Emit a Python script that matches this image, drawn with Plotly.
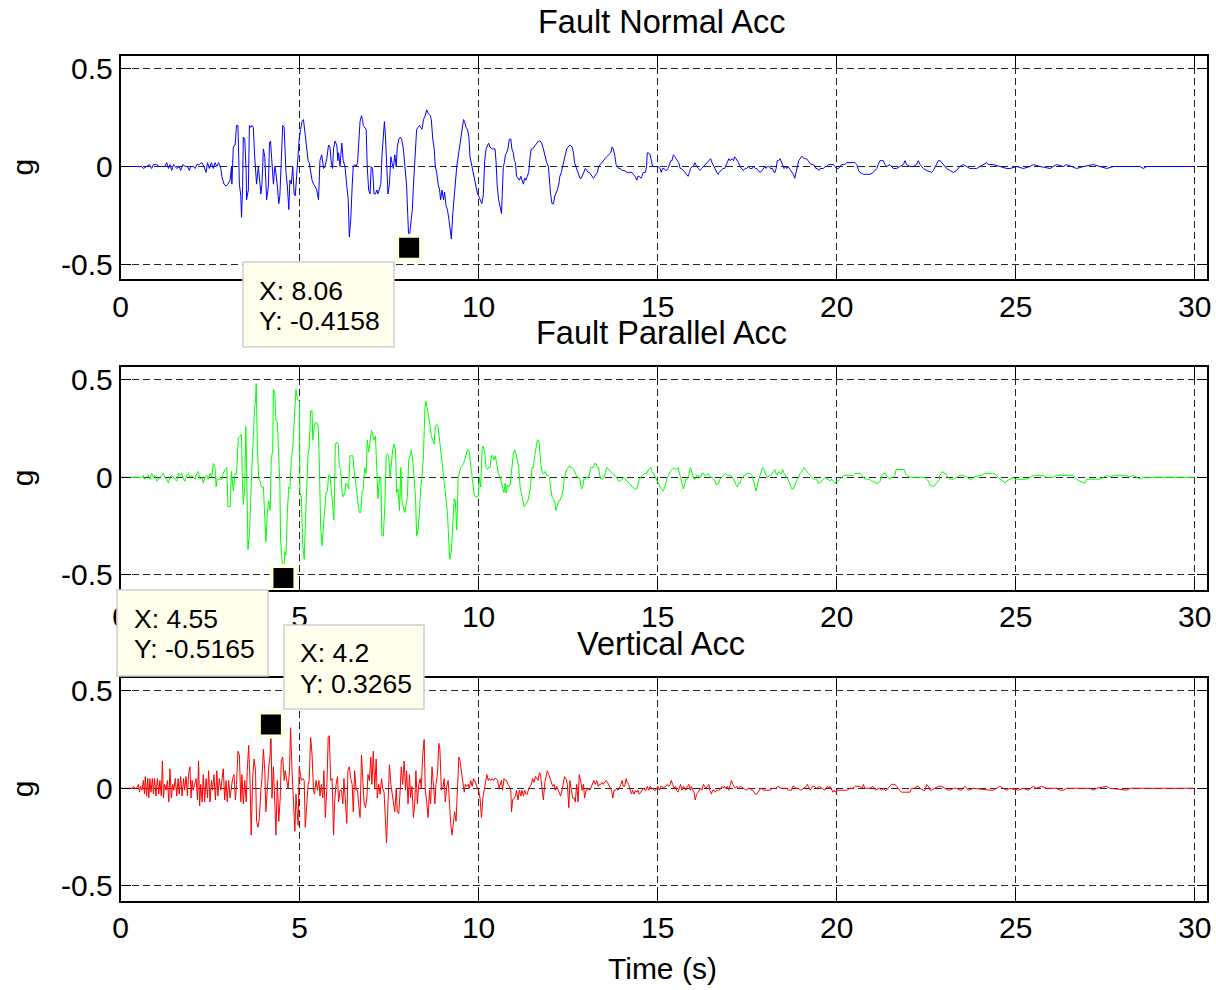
import plotly.graph_objects as go

# ---------------------------------------------------------------------------
# Ground-motion records (time in s, acceleration in g)
# ---------------------------------------------------------------------------
NORMAL_T = [
    0, 0.59, 0.64, 0.73, 0.81, 0.87, 0.92, 1.01, 1.08, 1.15,
    1.24, 1.29, 1.34, 1.38, 1.43, 1.48, 1.57, 1.64, 1.68, 1.74,
    1.81, 1.87, 1.92, 1.96, 2.03, 2.09, 2.13, 2.20, 2.27, 2.33,
    2.39, 2.43, 2.48, 2.54, 2.59, 2.64, 2.69, 2.74, 2.80,
    2.83, 2.89, 2.95, 3.00, 3.06, 3.10, 3.11, 3.15, 3.20, 3.24,
    3.28, 3.32, 3.36, 3.38, 3.41, 3.43, 3.47, 3.51, 3.52, 3.57,
    3.60, 3.64, 3.67, 3.71, 3.74, 3.77, 3.80, 3.85, 3.88, 3.92,
    3.95, 3.99, 4.03, 4.05, 4.08, 4.13, 4.16, 4.19, 4.23, 4.27,
    4.31, 4.34, 4.38, 4.42, 4.45, 4.50, 4.53, 4.57, 4.59, 4.62,
    4.66, 4.70, 4.73, 4.77, 4.81, 4.85, 4.88, 4.94, 4.99, 5.03,
    5.07, 5.11, 5.14, 5.18, 5.20, 5.24, 5.27, 5.31, 5.35, 5.39,
    5.43, 5.48, 5.53, 5.57, 5.62, 5.67, 5.71, 5.76, 5.81, 5.85,
    5.88, 5.92, 5.95, 5.99, 6.04, 6.07, 6.09, 6.13, 6.18, 6.22,
    6.27, 6.32, 6.36, 6.39, 6.43, 6.47, 6.50, 6.54, 6.58, 6.62,
    6.65, 6.69, 6.73, 6.76, 6.78, 6.82, 6.86, 6.89, 6.93, 6.97,
    7.00, 7.04, 7.08, 7.12, 7.16, 7.19, 7.23, 7.27, 7.30, 7.34,
    7.37, 7.40, 7.43, 7.47, 7.51, 7.55, 7.58, 7.62, 7.66, 7.70,
    7.73, 7.77, 7.81, 7.85, 7.90, 7.95, 7.99, 8.02, 8.05, 8.06,
    8.09, 8.12, 8.15, 8.18, 8.21, 8.24, 8.27, 8.31, 8.35, 8.38,
    8.42, 8.46, 8.51, 8.55, 8.60, 8.65, 8.68, 8.72, 8.76, 8.79,
    8.83, 8.87, 8.91, 8.94, 8.98, 9.02, 9.05, 9.09, 9.13, 9.17,
    9.20, 9.24, 9.28, 9.32, 9.35, 9.39, 9.43, 9.46, 9.50, 9.54,
    9.58, 9.61, 9.65, 9.69, 9.73, 9.76, 9.81, 9.86, 9.89, 9.93,
    9.97, 10.00,
    10.04, 10.09, 10.13, 10.17, 10.21, 10.24, 10.28, 10.32, 10.37, 10.41,
    10.46, 10.49, 10.52, 10.56, 10.60, 10.64, 10.66, 10.69, 10.72, 10.75,
    10.78, 10.82, 10.86, 10.90, 10.93, 10.97, 11.00, 11.03, 11.06, 11.10,
    11.14, 11.18, 11.21, 11.25, 11.29, 11.32, 11.36, 11.40, 11.44, 11.47,
    11.51, 11.55, 11.59, 11.62, 11.67, 11.72, 11.76, 11.81, 11.86, 11.90,
    11.95, 11.98, 12.01, 12.05, 12.09, 12.13, 12.16, 12.20, 12.24, 12.27,
    12.31, 12.35, 12.39, 12.42, 12.46, 12.50, 12.55, 12.61, 12.65, 12.68,
    12.72, 12.76, 12.80, 12.83, 12.87, 12.91, 12.94, 12.98, 13.02, 13.06,
    13.09, 13.13, 13.17, 13.21, 13.24, 13.28, 13.32, 13.35, 13.39, 13.43,
    13.48, 13.53, 13.58, 13.63, 13.69, 13.73, 13.76, 13.80, 13.84, 13.88,
    13.91, 13.95, 14.01, 14.06, 14.12, 14.15, 14.19, 14.23, 14.28, 14.32,
    14.37, 14.42, 14.45, 14.49, 14.53, 14.56, 14.60, 14.66, 14.69, 14.71,
    14.75, 14.79, 14.83, 14.86, 14.90, 14.96, 15.01, 15.07, 15.10, 15.14,
    15.18, 15.22, 15.25, 15.29, 15.33, 15.37, 15.40, 15.44, 15.48, 15.51,
    15.55, 15.59, 15.63, 15.66, 15.72, 15.77, 15.81, 15.85, 15.89, 15.92,
    15.96, 16.00, 16.04, 16.09, 16.14, 16.18, 16.23, 16.28, 16.33, 16.39,
    16.44, 16.48, 16.52, 16.56, 16.60, 16.65, 16.69, 16.72, 16.76, 16.82,
    16.87, 16.91, 16.95, 16.99, 17.02, 17.08, 17.12, 17.15, 17.19, 17.23,
    17.26, 17.30, 17.36, 17.39, 17.45, 17.49, 17.53, 17.58, 17.64, 17.67,
    17.73, 17.77, 17.80, 17.86, 17.92, 17.95, 17.99, 18.03, 18.06, 18.10,
    18.16, 18.21, 18.25, 18.28, 18.31, 18.34, 18.38, 18.42, 18.46, 18.49,
    18.53, 18.57, 18.61, 18.64, 18.68, 18.72, 18.75, 18.79, 18.83, 18.87,
    18.90, 18.94, 18.98, 19.01, 19.05, 19.09, 19.13, 19.16, 19.20, 19.24,
    19.28, 19.31, 19.35, 19.39, 19.42, 19.46, 19.50, 19.54, 19.58, 19.63,
    19.68, 19.72, 19.77, 19.82, 19.86, 19.91, 19.95, 20.00, 20.05, 20.09,
    20.14, 20.19, 20.23, 20.28, 20.33, 20.37, 20.42, 20.47, 20.51, 20.56,
    20.61, 20.65, 20.75, 20.84,
    20.93, 21.02, 21.12, 21.16, 21.21, 21.26, 21.30, 21.35, 21.40, 21.49,
    21.58, 21.67, 21.77, 21.86, 21.91, 21.95, 22.05, 22.14, 22.23, 22.28,
    22.33, 22.42, 22.51, 22.61, 22.65, 22.70, 22.79, 22.84, 22.89, 22.93,
    22.98, 23.07, 23.16, 23.26, 23.35, 23.44, 23.54, 23.63, 23.72, 23.82,
    23.91, 24.00, 24.09, 24.19, 24.23, 24.37, 24.56, 24.75, 24.84, 25.03,
    25.21, 25.40, 25.49, 25.68, 25.96, 26.14, 26.33, 26.42, 26.70, 26.89,
    27.17, 27.35, 27.54, 27.73, 28.10, 28.47, 28.56, 28.66, 30.00,
]
NORMAL_G = [
    0, 0, -0.01, 0, 0.01, -0.01, 0.01, 0.01, 0, 0,
    0, 0.02, -0.01, 0.01, -0.02, 0.01, -0.01, 0, -0.02, 0.01,
    0, 0, -0.02, 0, 0, -0.01, 0.01, 0.01, 0.02, 0,
    -0.03, 0.02, -0.01, 0.02, -0.01, 0.02, 0, 0.02, -0.01,
    -0.05, -0.09, -0.10, -0.09, -0.07, 0, -0.09, 0.10, 0.11, 0.21,
    0.21, -0.09, -0.15, -0.26, -0.10, 0.15, 0.14, -0.03, -0.17, -0.12,
    0.21, 0.20, 0.21, 0.20, 0.07, -0.03, -0.09, 0, -0.07, -0.14,
    -0.09, 0.09, 0.05, -0.10, -0.17, -0.10, 0.12, 0.13, 0, -0.09,
    0, -0.03, -0.10, -0.19, -0.15, 0.05, 0.21, 0.20, 0.10, -0.03,
    -0.10, -0.22, -0.07, -0.09, 0, -0.14, -0.15, 0.02, 0.14, 0.19,
    0.23, 0.24, 0.19, 0.14, 0.10, 0.03, 0.02, -0.03, -0.07, -0.09,
    -0.10, -0.12, -0.17, 0.03, 0.06, -0.01, 0, 0.04, 0.11, 0.10,
    0.03, -0.01, 0.09, 0.13, 0.11, 0.03, 0.07, 0, 0.12, 0.03,
    0, -0.10, -0.17, -0.36, -0.27, -0.10, 0, 0.01, 0, 0.02,
    0.14, 0.23, 0.26, 0.24, 0.21, 0.20, 0.19, 0, -0.12, -0.14,
    0, -0.01, -0.14, -0.14, -0.12, -0.14, -0.12, -0.09, 0.05, 0.17,
    0.23, 0.15, 0.05, -0.14, -0.09, 0.05, 0.02, -0.01, 0.06, 0,
    0.10, 0.14, 0.15, 0.14, 0.09, 0, -0.10, -0.24, -0.34, -0.4158,
    -0.32, -0.27, -0.22, -0.10, 0, 0.09, 0.19, 0.20, 0.21, 0.20,
    0.19, 0.24, 0.26, 0.29, 0.27, 0.26, 0.24, 0.14, 0.09, 0,
    -0.03, -0.09, -0.12, -0.17, -0.12, -0.17, -0.13, -0.20, -0.22, -0.27,
    -0.32, -0.37, -0.24, -0.15, -0.07, 0, 0.05, 0.09, 0.14, 0.20,
    0.24, 0.23, 0.20, 0.19, 0.15, 0.05, 0, -0.03, -0.07, -0.10,
    -0.14, -0.15,
    -0.17, -0.19, -0.15, 0.03, 0.09, 0.10, 0.12, 0.10, 0.09, 0.09,
    0.09, 0.02, -0.10, -0.17, -0.20, -0.24, -0.15, 0, 0.02, 0.06,
    0.07, 0.09, 0.14, 0.14, 0.09, 0.07, 0.03, 0.02, -0.05, -0.06,
    -0.07, -0.05, -0.07, -0.09, -0.06, -0.07, -0.05, -0.03, 0.05, 0.09,
    0.09, 0.10, 0.11, 0.12, 0.13, 0.13, 0.12, 0.09, 0.05, 0.02,
    0, -0.10, -0.14, -0.19, -0.19, -0.15, -0.14, -0.12, -0.09, -0.05,
    -0.03, 0, 0.03, 0.06, 0.09, 0.10, 0.11, 0.10, 0.07, 0.02,
    0, -0.02, -0.05, -0.06, -0.06, -0.04, -0.03, -0.01, -0.02, -0.03,
    -0.03, -0.04, -0.05, -0.06, -0.05, -0.04, -0.03, 0, 0.01, 0.02,
    0.03, 0.04, 0.05, 0.06, 0.07, 0.10, 0.09, 0.06, 0.01, 0,
    -0.01, -0.01, -0.02, -0.02, -0.03, -0.03, -0.03, -0.03, -0.03, -0.04,
    -0.05, -0.07, -0.05, -0.05, -0.06, -0.05, -0.03, -0.03, 0, 0.07,
    0.07, 0.06, 0.03, 0, 0, 0, 0, -0.01, -0.03, -0.01,
    -0.01, -0.02, -0.02, -0.01, 0.01, 0.03, 0.03, 0.06, 0.05, 0.04,
    0.03, 0.02, -0.01, -0.01, -0.02, -0.03, -0.04, -0.05, -0.03, -0.01,
    0, 0, 0.02, 0, -0.01, -0.02, -0.01, 0, 0.01, 0.02,
    0.03, 0.04, 0.02, 0, -0.01, -0.03, -0.04, -0.03, -0.02, -0.01,
    -0.01, 0.01, 0.03, 0.04, 0.03, 0.04, 0.03, 0.05, 0.04, 0.03,
    0.02, 0, -0.01, -0.02, -0.01, -0.01, 0, -0.01, -0.01, 0,
    -0.01, -0.01, -0.02, -0.03, -0.02, -0.01, 0, -0.01, 0, 0,
    -0.01, -0.01, -0.03, -0.03, -0.01, 0.03, 0.03, 0.04, 0.02, 0,
    -0.01, 0, -0.01, 0, -0.01, -0.02, -0.03, -0.04, -0.06, -0.02,
    0, 0.03, 0.04, 0.05, 0.05, 0.04, 0.04, 0.04, 0.03, 0.02,
    0.01, 0.01, 0.01, 0, -0.01, -0.01, -0.02, -0.01, -0.01, -0.01,
    0, 0, 0.01, 0.01, 0.01, 0.01, 0, -0.01, -0.01, 0,
    0.01, 0.01, 0.01, 0.02, 0.02, 0.02, 0.02, 0.02, 0.02, 0.01,
    -0.02, -0.03, -0.04, -0.04,
    -0.04, -0.03, -0.01, 0.01, 0.03, 0.03, 0.03, 0.01, 0, 0.01,
    -0.01, -0.01, 0, 0.01, 0.03, 0.01, 0, 0, 0.01, 0.03,
    0.01, -0.01, -0.02, -0.03, -0.03, -0.02, 0.01, 0.03, 0.03, 0.02,
    0.01, -0.01, -0.02, -0.03, -0.02, 0, 0.01, 0, -0.01, -0.01,
    -0.01, 0, 0.01, 0.02, 0.01, 0.01, 0, -0.01, -0.01, 0,
    -0.01, 0, 0.01, 0, -0.01, 0.01, 0, 0.01, -0.01, 0,
    0.01, 0, -0.01, 0, 0, 0, -0.01, 0, 0,
]

PARALLEL_T = [
    0, 0.59, 0.64, 0.67, 0.73, 0.78, 0.82, 0.87, 0.92, 0.96,
    1.01, 1.06, 1.10, 1.15, 1.20, 1.24, 1.29, 1.34, 1.38, 1.43,
    1.48, 1.52, 1.57, 1.62, 1.66, 1.71, 1.76, 1.80, 1.85, 1.89,
    1.94, 1.99, 2.03, 2.08, 2.13, 2.17, 2.22, 2.27, 2.31, 2.36,
    2.41, 2.45, 2.50, 2.55, 2.59, 2.64, 2.67, 2.70, 2.74, 2.78,
    2.83, 2.87, 2.92, 2.97, 3.00, 3.06, 3.10, 3.15, 3.20, 3.24,
    3.29, 3.34, 3.38, 3.40, 3.43, 3.47, 3.50, 3.52, 3.56, 3.60,
    3.64, 3.67, 3.71, 3.74, 3.77, 3.79, 3.82, 3.86, 3.90, 3.93,
    3.99, 4.03, 4.06, 4.10, 4.14, 4.18, 4.21, 4.25, 4.27, 4.31,
    4.34, 4.38, 4.42, 4.45, 4.47, 4.51, 4.55, 4.59, 4.62, 4.66,
    4.70, 4.73, 4.77, 4.81, 4.85, 4.88, 4.90, 4.94, 5.00, 5.01,
    5.05, 5.09, 5.13, 5.16, 5.20, 5.24, 5.27, 5.31, 5.35, 5.37,
    5.41, 5.44, 5.48, 5.52, 5.55, 5.59, 5.63, 5.67, 5.70, 5.74,
    5.78, 5.81, 5.85, 5.89, 5.93, 5.96, 6.00, 6.04, 6.08, 6.11,
    6.15, 6.19, 6.22, 6.26, 6.30, 6.34, 6.37, 6.41, 6.45, 6.49,
    6.52, 6.56, 6.60, 6.63, 6.67, 6.71, 6.75, 6.78, 6.82, 6.86,
    6.89, 6.93, 6.97, 7.01, 7.04, 7.08, 7.12, 7.16, 7.19, 7.23,
    7.27, 7.30, 7.34, 7.38, 7.42, 7.45, 7.49, 7.53, 7.57, 7.60,
    7.64, 7.68, 7.71, 7.75, 7.79, 7.83, 7.86, 7.90, 7.94, 7.97,
    8.01, 8.05, 8.09, 8.12, 8.16, 8.20, 8.24, 8.27, 8.31, 8.35,
    8.38, 8.42, 8.46, 8.50, 8.53, 8.57, 8.61, 8.65, 8.68, 8.72,
    8.76, 8.79, 8.83, 8.87, 8.91, 8.94, 8.98, 9.02, 9.05, 9.09,
    9.13, 9.17, 9.20, 9.24, 9.28, 9.32, 9.35, 9.39, 9.43, 9.46,
    9.50, 9.54, 9.58, 9.61, 9.65, 9.69, 9.73, 9.76, 9.80, 9.84,
    9.87, 9.91, 9.95, 9.99, 10.02, 10.06, 10.10, 10.13, 10.17, 10.21,
    10.25, 10.28, 10.32, 10.36, 10.40, 10.43, 10.47, 10.51, 10.55, 10.60,
    10.64, 10.67, 10.71, 10.74, 10.77, 10.80, 10.84, 10.88, 10.92, 10.94,
    10.97, 11.01, 11.05, 11.08, 11.12, 11.16, 11.19, 11.23, 11.27, 11.31,
    11.34, 11.38, 11.42, 11.45, 11.49, 11.53, 11.57, 11.60, 11.64, 11.68,
    11.72, 11.75, 11.79, 11.83, 11.86, 11.90, 11.94, 11.98, 12.01, 12.05,
    12.09, 12.13, 12.16, 12.20, 12.24, 12.27, 12.31, 12.35, 12.39, 12.42,
    12.46, 12.50, 12.54, 12.57, 12.61, 12.65, 12.68, 12.72, 12.76, 12.80,
    12.83, 12.87, 12.91, 12.94, 12.98, 13.02, 13.06, 13.09, 13.13, 13.17,
    13.21, 13.24, 13.28, 13.32, 13.35, 13.39, 13.43, 13.47, 13.50, 13.54,
    13.58, 13.63, 13.69, 13.75, 13.80, 13.86, 13.91, 13.95, 14.01, 14.06,
    14.14, 14.21, 14.29, 14.36, 14.42, 14.45, 14.49, 14.53, 14.58, 14.64,
    14.69, 14.75, 14.81, 14.84, 14.88, 14.94, 14.99, 15.05, 15.10, 15.16,
    15.20, 15.23, 15.27, 15.31, 15.35, 15.40, 15.46, 15.51, 15.57, 15.61,
    15.64, 15.68, 15.72, 15.76, 15.79, 15.83, 15.87, 15.91, 15.94, 15.98,
    16.02, 16.05, 16.09, 16.13, 16.17, 16.20, 16.24, 16.28, 16.31, 16.37,
    16.41, 16.45, 16.48, 16.52, 16.56, 16.60, 16.65, 16.70, 16.74, 16.79,
    16.84, 16.89, 16.95, 17.00, 17.04, 17.08, 17.12, 17.15, 17.19, 17.23,
    17.26, 17.30, 17.34, 17.38, 17.41, 17.45, 17.49, 17.53, 17.58, 17.63,
    17.67, 17.71, 17.75, 17.79, 17.82, 17.86, 17.90, 17.93, 17.97, 18.01,
    18.05, 18.08, 18.12, 18.16, 18.20, 18.23, 18.27, 18.31, 18.34, 18.38,
    18.42, 18.46, 18.49, 18.53, 18.57, 18.61, 18.64, 18.68, 18.72, 18.75,
    18.79, 18.83, 18.87, 18.90, 18.94, 18.98, 19.03, 19.09, 19.13, 19.16,
    19.21, 19.26, 19.30, 19.35, 19.40, 19.44, 19.49, 19.54, 19.58, 19.63,
    19.68, 19.72, 19.77, 19.82, 19.86, 19.91, 19.95, 20.00, 20.05, 20.09,
    20.14, 20.19, 20.23, 20.28, 20.37, 20.47, 20.51, 20.56, 20.61, 20.65,
    20.70, 20.75, 20.79, 20.84, 20.89, 20.93, 20.98, 21.03, 21.07, 21.12,
    21.16, 21.21,
    21.26, 21.30, 21.35, 21.39, 21.44, 21.49, 21.53, 21.58, 21.63, 21.66,
    21.77, 21.89, 21.92, 21.95, 22.05, 22.37, 22.42, 22.47, 22.51, 22.56,
    22.61, 22.65, 22.70, 22.74, 22.79, 22.84, 22.87, 22.88, 22.93, 22.96,
    23.00, 23.03, 23.07, 23.12, 23.16, 23.21, 23.26, 23.35, 23.44, 23.54,
    23.63, 23.72, 23.77, 23.82, 23.86, 23.89, 23.93, 23.96, 24.05, 24.14,
    24.28, 24.37, 24.47, 24.56, 24.65, 24.70, 24.75, 24.84, 24.93, 24.98,
    25.31, 25.40, 25.49, 25.58, 25.68, 25.77, 25.86, 26.05, 26.14, 26.24,
    26.61, 26.65, 26.70, 26.79, 26.93, 26.98, 27.07, 27.17, 27.35, 27.45,
    27.54, 27.63, 27.73, 27.82, 27.91, 28.01, 28.10, 28.19, 28.28, 28.38,
    28.47, 28.56, 30.00,
]
PARALLEL_G = [
    0, 0, 0.01, -0.01, 0, 0.01, -0.01, 0.02, 0, 0.01,
    -0.02, -0.01, 0, 0.01, 0.02, 0, -0.01, -0.03, 0, 0.01,
    0, -0.01, -0.02, 0.02, 0.01, 0.02, -0.01, -0.02, 0.01, 0.02,
    0, 0.01, 0, -0.01, 0.02, 0.03, -0.01, 0, -0.03, 0,
    0.01, -0.01, 0.02, 0, 0.07, 0.05, -0.05, -0.01, -0.01, -0.01,
    -0.01, 0.02, 0.04, 0.05, -0.15, -0.15, 0.03, -0.07, 0.02, 0.02,
    0.20, 0.21, 0.22, 0, -0.14, -0.05, 0.26, 0.07, -0.37, -0.29,
    -0.05, 0.05, 0.21, 0.35, 0.39, 0.48, 0.17, -0.01, -0.02, -0.05,
    -0.05, -0.20, -0.33, -0.18, -0.12, -0.17, 0.09, 0.14, 0.45, 0.43,
    0.29, 0.28, 0.14, -0.03, -0.32, -0.43, -0.5165, -0.38, -0.40, -0.18,
    -0.05, -0.06, 0.09, 0.15, 0.29, 0.37, 0.45, 0.40, 0.39, -0.08,
    -0.10, -0.35, -0.42, -0.25, -0.06, 0.12, 0.15, 0.34, 0.34, 0.19,
    0.26, 0.28, 0.28, 0.26, 0.09, -0.25, -0.35, -0.27, -0.17, -0.08,
    -0.07, 0.01, 0.01, -0.07, -0.18, -0.22, 0.17, 0.18, 0.17, 0.05,
    0.04, -0.08, -0.10, -0.08, -0.03, -0.04, -0.06, 0.11, 0.11, 0.11,
    0.04, -0.01, -0.08, -0.13, -0.18, -0.18, -0.07, -0.06, 0.05, 0.02,
    0.19, 0.13, 0.18, 0.24, 0.22, 0.19, 0.21, -0.01, -0.11, -0.01,
    0, -0.30, -0.30, -0.15, 0.11, 0.12, 0.11, 0, 0.11, 0.14,
    0.17, 0.14, -0.08, -0.06, -0.17, 0.05, -0.13, -0.15, -0.18, -0.15,
    -0.10, 0.09, 0.11, 0.14, 0.09, 0, -0.11, -0.30, -0.27, -0.18,
    -0.06, 0, 0.11, 0.35, 0.39, 0.35, 0.31, 0.26, 0.21, 0.19,
    0.17, 0.26, 0.27, 0.26, 0.19, 0.12, 0.07, 0, -0.06, -0.12,
    -0.18, -0.34, -0.42, -0.38, -0.22, -0.11, -0.12, -0.27, 0, 0.02,
    0.05, 0.06, 0.07, 0.09, 0.11, 0.14, 0.14, 0.09, 0.04, -0.01,
    -0.08, -0.10, -0.10, -0.10, 0, -0.05, 0.15, 0.16, 0.13, 0.05,
    0.04, 0.05, 0.05, 0.11, 0.11, 0.09, 0.11, 0.07, 0.02, 0,
    -0.03, -0.05, -0.08, -0.03, -0.08, -0.04, -0.05, -0.04, 0.04, 0.09,
    0.12, 0.14, 0.12, 0.09, 0.05, -0.05, -0.08, -0.13, -0.15, -0.14,
    -0.13, -0.12, -0.08, -0.05, 0.05, 0.05, 0.11, 0.14, 0.19, 0.19,
    0.12, 0.05, 0.02, 0.02, 0.03, 0.01, 0.01, 0, -0.05, -0.10,
    -0.11, -0.13, -0.17, -0.15, -0.12, -0.12, -0.10, -0.08, -0.01, 0.01,
    0.04, 0.05, 0.06, 0.05, 0.05, 0.04, 0.03, 0.02, 0, 0,
    -0.01, -0.06, -0.05, -0.01, -0.01, 0, 0, 0.01, 0.05, 0.05,
    0.05, 0.07, 0.07, 0.05, 0.05, 0, -0.01, -0.01, 0, 0.02,
    0.05, 0.04, 0.03, 0.02, 0.01, 0, -0.02, -0.02, -0.01, 0,
    -0.02, -0.03, -0.05, -0.06, -0.06, -0.03, -0.01, 0, 0.01, 0.02,
    0.02, 0.04, 0.05, 0.03, 0.02, 0, -0.02, -0.04, -0.06, -0.07,
    -0.05, -0.03, 0, 0.01, 0.03, 0.04, 0.05, 0.04, 0.05, 0.02,
    0, -0.03, -0.06, -0.03, -0.01, -0.01, 0.01, 0.05, 0.04, 0.01,
    -0.01, -0.01, 0.01, 0.01, 0, 0, 0.02, 0.02, 0.01, 0.01,
    0.02, 0.01, 0, 0, -0.01, -0.02, -0.04, -0.03, -0.01, 0,
    0.01, 0.02, 0.01, 0.01, 0.01, 0, -0.01, -0.02, -0.04, -0.05,
    -0.03, -0.03, -0.01, 0, 0.01, 0.01, 0.02, 0.02, 0.02, 0.01,
    -0.01, -0.04, -0.07, -0.03, -0.01, 0.01, 0.03, 0.05, 0.04, 0.02,
    0, 0, 0.01, 0.01, 0.02, 0.03, 0.04, 0.02, 0.01, 0.03,
    0.02, 0.02, 0.04, 0.02, 0.01, 0, -0.01, -0.03, -0.05, -0.06,
    -0.06, -0.04, -0.03, -0.01, 0, 0.02, 0.03, 0.05, 0.04, 0.03,
    0.02, 0.01, 0, -0.01, -0.01, -0.01, -0.03, -0.03, -0.02, -0.01,
    0, -0.01, -0.01, -0.02, -0.01, -0.02, -0.03, -0.02, -0.02, -0.01,
    0, 0.01, 0.01, 0.01, 0.01, 0.01, 0.02, 0.02, 0.02, 0.02,
    0.01, 0, -0.01, -0.01, -0.01, -0.01, -0.02, -0.02, -0.03, -0.03,
    -0.03, -0.02,
    0.01, 0.02, 0.02, 0.01, 0, -0.01, 0, 0, 0.01, 0.04,
    0.04, 0.04, 0.02, 0.01, 0, 0, 0, 0, -0.01, -0.02,
    -0.04, -0.04, -0.05, -0.04, -0.03, -0.02, -0.01, 0.01, 0.02, 0.03,
    0.02, 0.02, 0.01, 0, -0.01, -0.01, -0.01, 0, 0.01, 0.01,
    0, -0.01, -0.01, 0, 0, 0.01, 0, 0.01, 0.01, 0.02,
    0.02, 0.02, 0.01, -0.01, -0.02, -0.03, -0.02, -0.01, 0, -0.01,
    -0.01, 0, 0.01, 0.01, 0.01, 0.01, 0, 0, 0.01, 0.01,
    0.01, 0, -0.01, -0.02, -0.03, -0.01, -0.01, -0.01, -0.01, 0,
    0.01, 0, 0.01, 0.01, 0.01, 0.01, 0.01, 0, 0.01, 0,
    -0.01, 0, 0,
]

VERTICAL_T = [
    0, 0.34, 0.36, 0.40, 0.45, 0.50, 0.53, 0.56, 0.60, 0.64,
    0.67, 0.69, 0.73, 0.76, 0.79, 0.82, 0.85, 0.89, 0.92, 0.95,
    0.99, 1.03, 1.07, 1.10, 1.14, 1.17, 1.20, 1.23, 1.27, 1.31,
    1.35, 1.38, 1.42, 1.46, 1.49, 1.53, 1.57, 1.61, 1.64, 1.68,
    1.72, 1.76, 1.79, 1.83, 1.87, 1.90, 1.94, 1.97, 2.00, 2.03,
    2.07, 2.11, 2.15, 2.18, 2.21, 2.24, 2.28, 2.31, 2.35, 2.39,
    2.43, 2.46, 2.50, 2.54, 2.57, 2.61, 2.65, 2.69, 2.72, 2.76,
    2.80, 2.84, 2.87, 2.91, 2.95, 2.98, 3.02, 3.06, 3.10, 3.13,
    3.17, 3.21, 3.24, 3.28, 3.32, 3.36, 3.39, 3.43, 3.47, 3.51,
    3.54, 3.58, 3.62, 3.65, 3.69, 3.73, 3.77, 3.80, 3.84, 3.88,
    3.92, 3.95, 3.99, 4.03, 4.06, 4.10, 4.14, 4.18, 4.20, 4.23,
    4.27, 4.31, 4.34, 4.38, 4.42, 4.46, 4.49, 4.53, 4.57, 4.60,
    4.64, 4.68, 4.72, 4.75, 4.79, 4.83, 4.87, 4.90, 4.94, 4.96,
    4.99, 5.01, 5.05, 5.09, 5.13, 5.16, 5.20, 5.24, 5.27, 5.31,
    5.35, 5.39, 5.42, 5.46, 5.50, 5.54, 5.57, 5.61, 5.65, 5.68,
    5.72, 5.76, 5.80, 5.83, 5.87, 5.91, 5.95, 5.98, 6.02, 6.06,
    6.09, 6.13, 6.17, 6.21, 6.24, 6.28, 6.32, 6.35, 6.39, 6.43,
    6.47, 6.50, 6.54, 6.58, 6.62, 6.65, 6.69, 6.73, 6.76, 6.80,
    6.84, 6.88, 6.91, 6.95, 6.99, 7.02, 7.06, 7.10, 7.14, 7.17,
    7.21, 7.25, 7.29, 7.32, 7.36, 7.40, 7.43, 7.47, 7.51, 7.55,
    7.58, 7.62, 7.66, 7.70, 7.73, 7.77, 7.81, 7.84, 7.88, 7.92,
    7.96, 7.99, 8.03, 8.07, 8.10, 8.14, 8.18, 8.22, 8.25, 8.29,
    8.33, 8.37, 8.40, 8.44, 8.48, 8.51, 8.55, 8.59, 8.63, 8.66,
    8.70, 8.74, 8.78, 8.81, 8.85, 8.89, 8.92, 8.96, 9.00, 9.04,
    9.07, 9.11, 9.15, 9.19, 9.22, 9.26, 9.30, 9.33, 9.37, 9.41,
    9.45, 9.48, 9.52, 9.56, 9.60, 9.63, 9.67, 9.71, 9.74, 9.78,
    9.82, 9.86, 9.89, 9.93, 9.97, 10.00, 10.04, 10.08, 10.12, 10.15,
    10.19, 10.23, 10.27, 10.30, 10.34, 10.38, 10.42, 10.45, 10.49, 10.53,
    10.57,
    10.64, 10.67, 10.71, 10.75, 10.78, 10.82, 10.86, 10.90, 10.92, 10.95,
    10.99, 11.03, 11.06, 11.10, 11.14, 11.18, 11.21, 11.25, 11.29, 11.32,
    11.36, 11.40, 11.44, 11.47, 11.51, 11.55, 11.59, 11.62, 11.66, 11.70,
    11.73, 11.77, 11.81, 11.85, 11.88, 11.92, 11.96, 12.00, 12.03, 12.07,
    12.11, 12.14, 12.18, 12.22, 12.26, 12.29, 12.33, 12.37, 12.40, 12.44,
    12.48, 12.52, 12.55, 12.59, 12.63, 12.67, 12.70, 12.74, 12.78, 12.81,
    12.85, 12.89, 12.93, 12.96, 13.00, 13.04, 13.08, 13.11, 13.15, 13.19,
    13.22, 13.26, 13.30, 13.34, 13.37, 13.41, 13.45, 13.48, 13.52, 13.56,
    13.60, 13.63, 13.67, 13.71, 13.75, 13.78, 13.82, 13.86, 13.89, 13.93,
    13.97, 14.01, 14.04, 14.08, 14.12, 14.15, 14.19, 14.23, 14.27, 14.30,
    14.34, 14.38, 14.42, 14.45, 14.49, 14.53, 14.56, 14.60, 14.64, 14.68,
    14.71, 14.75, 14.79, 14.83, 14.86, 14.90, 14.94, 14.97, 15.01, 15.05,
    15.09, 15.12, 15.16, 15.20, 15.23, 15.27, 15.31, 15.35, 15.38, 15.42,
    15.46, 15.50, 15.53, 15.57, 15.61, 15.64, 15.68, 15.72, 15.76, 15.79,
    15.83, 15.87, 15.91, 15.94, 15.98, 16.02, 16.05, 16.09, 16.13, 16.17,
    16.20, 16.24, 16.28, 16.31, 16.35, 16.39, 16.43, 16.46, 16.50, 16.54,
    16.58, 16.61, 16.65, 16.69, 16.72, 16.76, 16.80, 16.84, 16.87, 16.91,
    16.95, 16.99, 17.02, 17.06, 17.10, 17.13, 17.17, 17.21, 17.25, 17.32,
    17.39, 17.47, 17.54, 17.58, 17.62, 17.66, 17.69, 17.73, 17.77, 17.80,
    17.84, 17.88, 17.92, 17.95, 17.99, 18.06, 18.10, 18.14, 18.21, 18.29,
    18.36, 18.44, 18.51, 18.59, 18.66, 18.70, 18.74, 18.77, 18.81, 18.85,
    18.92, 19.00, 19.07, 19.15, 19.18, 19.22, 19.26, 19.33, 19.37, 19.44,
    19.52, 19.59, 19.67, 19.74, 19.78, 19.82, 19.85, 19.89, 19.93, 19.96,
    20.00, 20.08, 20.15, 20.23, 20.30, 20.37, 20.45, 20.52, 20.60, 20.63,
    20.71, 20.75, 20.78, 20.86, 20.93, 21.01, 21.08, 21.19,
    21.26, 21.30, 21.35, 21.39, 21.44, 21.53, 21.58, 21.63, 21.67, 21.72,
    21.77, 21.81, 22.05, 22.09, 22.19, 22.23, 22.28, 22.33, 22.42, 22.47,
    22.51, 22.56, 22.61, 22.65, 22.74, 22.84, 22.93, 23.02, 23.12, 23.16,
    23.26, 23.35, 23.44, 23.49, 23.54, 23.58, 23.63, 23.68, 23.82, 24.19,
    24.28, 24.37, 24.47, 24.56, 24.65, 24.75, 24.84, 25.07, 25.21, 25.35,
    25.49, 25.58, 25.72, 25.86, 26.14, 26.24, 26.33, 26.42, 27.07, 27.17,
    27.26, 27.54, 27.63, 28.01, 28.10, 28.19, 30.00,
]
VERTICAL_G = [
    0, 0, 0.01, 0, 0, 0.02, -0.02, 0.01, -0.01, 0.04,
    -0.03, 0.06, -0.04, 0.05, -0.05, 0.05, -0.02, 0.05, -0.03, 0.05,
    -0.04, 0.05, -0.03, 0.04, -0.04, 0.14, -0.05, 0.02, -0.01, 0.04,
    -0.07, 0.10, -0.05, 0.02, -0.01, 0.05, -0.04, 0.05, -0.03, 0.06,
    -0.04, 0.05, -0.01, 0.06, -0.04, 0.07, 0.11, -0.05, 0.04, -0.01,
    0.02, 0.05, -0.06, 0.14, -0.09, 0.02, -0.07, 0.07, -0.07, 0.05,
    -0.05, 0.09, -0.07, 0.04, -0.01, 0.07, -0.06, 0.09, -0.04, 0.05,
    -0.01, 0.04, 0.10, -0.06, 0.04, -0.07, 0.04, -0.05, 0.02, 0.05,
    0.07, -0.06, 0.02, 0.19, 0.17, -0.07, 0.07, -0.08, 0.04, -0.07,
    0.09, 0.22, 0.02, -0.24, 0.05, 0.15, 0.09, -0.17, -0.20, -0.15,
    -0.01, 0.05, 0.20, 0.09, -0.12, 0.02, 0.11, 0.17, 0.3265, -0.05,
    0.11, -0.08, -0.24, 0.04, -0.17, -0.05, 0.14, 0.16, 0.04, 0.09,
    0.05, 0, 0.09, 0.31, 0.09, -0.10, -0.22, -0.03, -0.15, -0.19,
    0.11, 0.09, 0.04, 0.05, 0.04, -0.20, -0.07, 0.02, 0.04, 0.26,
    0.17, -0.01, -0.03, 0.04, -0.01, 0.04, -0.04, 0.02, -0.05, 0.09,
    -0.15, -0.01, 0.26, 0.27, 0.04, 0.05, -0.24, -0.07, 0.02, 0.06,
    -0.07, -0.01, -0.01, -0.08, 0.05, -0.07, -0.18, 0.09, 0.11, 0.05,
    0.02, -0.12, 0.09, -0.01, -0.01, -0.08, -0.15, 0.17, 0.09, -0.07,
    -0.10, -0.05, 0.07, 0.04, 0.16, 0.02, 0.19, 0, 0.15, -0.05,
    0.02, -0.03, 0.05, 0, -0.02, -0.18, -0.28, -0.08, 0.12, 0.02,
    -0.01, -0.07, -0.12, 0, -0.12, -0.13, -0.01, 0.11, 0.02, 0.14,
    -0.01, 0.09, -0.08, 0.07, -0.05, 0.01, -0.15, -0.07, 0.09, -0.08,
    0.02, 0.05, 0, 0.17, 0.25, 0, -0.07, -0.15, -0.01, -0.08,
    0.11, 0.03, -0.08, 0.02, 0.07, 0.23, 0.20, -0.01, 0, 0.05,
    -0.07, 0.01, 0.04, -0.08, -0.18, -0.24, -0.15, -0.12, -0.17, 0.05,
    0.16, 0.14, 0.09, 0.04, -0.02, 0.02, 0.01, 0.02, 0, 0.04,
    0.01, 0.05, 0.04, 0.02, 0, -0.01, -0.05, -0.15, -0.05, -0.01,
    0.02, 0.07, 0.04, 0.05, 0.04, 0.05, 0.04, 0.05, 0.05, 0.04,
    0,
    0.04, -0.01, 0.05, 0.04, 0.04, 0.02, 0.01, -0.01, -0.12, -0.06,
    -0.05, -0.04, -0.01, -0.06, -0.01, -0.04, -0.01, -0.04, -0.01, -0.03,
    -0.03, 0, 0.01, 0.02, 0.05, 0.03, 0.06, 0.05, 0.04, 0.08,
    0.07, 0, -0.06, 0.03, 0.05, 0.09, 0.07, 0.05, 0.04, 0.01,
    0.02, -0.01, 0.01, -0.01, -0.03, -0.04, -0.01, 0.04, 0.06, 0.05,
    0.02, -0.10, 0.04, -0.01, -0.05, -0.05, -0.07, 0.02, -0.07, 0.07,
    0.04, -0.01, 0.02, -0.05, -0.01, -0.01, 0, -0.01, 0.01, 0.02,
    0.04, 0.02, 0.04, 0.01, 0.02, 0.02, 0.03, 0.02, 0.03, 0.04,
    0.03, 0.02, 0, -0.01, -0.05, -0.01, -0.01, 0, -0.01, 0,
    0.02, 0.04, 0.01, 0.01, 0.05, 0.03, 0.02, -0.01, -0.03, -0.01,
    -0.03, -0.01, -0.02, -0.01, -0.03, -0.02, -0.01, 0, -0.01, -0.01,
    0.01, -0.01, 0.01, 0, 0, -0.01, -0.01, 0, 0.01, -0.01,
    0.01, 0.01, 0, 0.01, 0.01, 0.02, 0.01, 0.02, 0.04, 0.02,
    0, 0.01, -0.01, -0.02, 0, 0.02, -0.01, 0.01, 0, -0.01,
    0.01, 0.02, -0.01, 0.01, -0.01, -0.02, -0.06, -0.03, -0.02, -0.01,
    0, -0.01, 0.02, 0.01, 0, 0.01, 0.02, -0.01, -0.03, -0.01,
    -0.01, -0.02, -0.01, -0.01, -0.01, 0, 0.01, 0, 0.01, 0,
    0.01, -0.01, 0.02, 0.04, 0.02, 0.01, 0, 0.01, 0, 0.01,
    0, -0.01, 0, 0, -0.01, -0.01, -0.02, -0.03, -0.03, -0.02,
    -0.01, 0, 0, -0.01, -0.01, -0.01, -0.01, -0.01, 0, 0,
    0.01, 0, 0, 0, -0.01, -0.01, -0.01, 0.01, 0.01, 0,
    0, -0.01, 0, 0.01, 0.02, 0, -0.01, 0.01, 0.01, 0,
    0.01, 0, -0.01, 0.01, 0, 0.01, 0, -0.02, -0.01, -0.02,
    -0.01, -0.01, -0.01, -0.01, -0.01, 0, 0, 0.01, 0.01, 0.01,
    0, 0.02, 0, 0, 0, 0.01, -0.01, 0,
    -0.01, 0, -0.01, -0.01, 0, 0.02, 0.02, 0.02, 0.01, 0,
    -0.01, -0.02, -0.02, 0, 0, 0.01, 0.01, 0, -0.01, -0.01,
    0.02, 0.01, -0.01, -0.01, 0, 0.01, 0.01, 0, -0.01, -0.01,
    0, 0, -0.01, -0.01, 0, 0.01, 0, -0.01, 0, -0.01,
    -0.01, -0.01, 0, 0.01, 0, -0.01, 0, -0.01, 0, -0.01,
    0.01, 0, 0.01, 0, 0, -0.01, -0.01, 0, 0, -0.01,
    0, 0.01, 0, -0.01, -0.01, 0, 0,
]

# Data cursors placed on the records: (time s, acceleration g)
TIP_NORMAL = (8.06, -0.4158)
TIP_PARALLEL = (4.55, -0.5165)
TIP_VERTICAL = (4.2, 0.3265)

PANEL_TITLES = ["Fault Normal Acc", "Fault Parallel Acc", "Vertical Acc"]
LINE_COLORS = ["#0000FF", "#00FF00", "#FF0000"]
TIME_TICKS = [0, 5, 10, 15, 20, 25, 30]
ACC_TICKS = [-0.5, 0, 0.5]
ACC_TICK_TEXT = ["-0.5", "0", "0.5"]
X_LABEL = "Time (s)"
Y_LABEL = "g"

for name, t, g in [("normal", NORMAL_T, NORMAL_G),
                   ("parallel", PARALLEL_T, PARALLEL_G),
                   ("vertical", VERTICAL_T, VERTICAL_G)]:
    assert len(t) == len(g), (name, len(t), len(g))

# ---------------------------------------------------------------------------
# Figure layout (pixel geometry of a 1216 x 990 canvas)
# ---------------------------------------------------------------------------
W, H = 1216, 990
FONT = "Liberation Sans, Arial, Helvetica, sans-serif"


def fx(px):
    return px / W


def fy(py):
    return 1 - py / H


X_DOMAIN = [fx(120.5), fx(1207.3)]
# (top, bottom) of each panel in pixels
PANELS = [(56.0, 279.0), (367.0, 589.5), (678.0, 900.5)]
X_RANGE = [0, 30.35]
Y_RANGE = [-0.575, 0.565]

axis_common = dict(
    showline=True, linecolor="black", linewidth=1.5, mirror="ticks",
    ticks="inside", ticklen=11, tickwidth=1.2, tickcolor="black",
    showgrid=True, gridcolor="rgba(0,0,0,0.85)", gridwidth=1, griddash="7px,4px",
    zeroline=False, tickfont=dict(family=FONT, size=30, color="black"),
    fixedrange=True, automargin=False,
)

fig = go.Figure()
layout = dict(
    width=W, height=H, margin=dict(l=0, r=0, t=0, b=0, autoexpand=False),
    paper_bgcolor="white", plot_bgcolor="white", showlegend=False,
    font=dict(family=FONT, color="black"),
)

records = [(NORMAL_T, NORMAL_G, TIP_NORMAL),
           (PARALLEL_T, PARALLEL_G, TIP_PARALLEL),
           (VERTICAL_T, VERTICAL_G, TIP_VERTICAL)]

for i, ((t, g, tip), color, (top, bot)) in enumerate(zip(records, LINE_COLORS, PANELS)):
    suffix = "" if i == 0 else str(i + 1)
    xa, ya = "x" + suffix, "y" + suffix
    layout["xaxis" + suffix] = dict(
        axis_common, domain=X_DOMAIN, anchor=ya, range=X_RANGE,
        tickvals=TIME_TICKS, ticktext=[str(v) for v in TIME_TICKS],
        ticklabelstandoff=0,
    )
    layout["yaxis" + suffix] = dict(
        axis_common, domain=[fy(bot), fy(top)], anchor=xa, range=Y_RANGE,
        tickvals=ACC_TICKS, ticktext=ACC_TICK_TEXT, ticklabelstandoff=0,
    )
    fig.add_trace(go.Scatter(
        x=t, y=g, mode="lines", line=dict(color=color, width=1),
        xaxis=xa, yaxis=ya, hoverinfo="skip",
    ))
    fig.add_trace(go.Scatter(
        x=[tip[0]], y=[tip[1]], mode="markers", cliponaxis=False,
        marker=dict(symbol="square", size=24, color="black",
                    line=dict(color="#FFFFE1", width=4)),
        xaxis=xa, yaxis=ya, hoverinfo="skip",
    ))

fig.update_layout(**layout)

annotations = []
shapes = []


def text_at(px, py, text, size=30, xanchor="center", angle=0):
    annotations.append(dict(
        x=fx(px), y=fy(py), xref="paper", yref="paper", text=text,
        showarrow=False, xanchor=xanchor, yanchor="middle", textangle=angle,
        font=dict(family=FONT, size=size, color="black"),
    ))


# panel titles and axis labels
for title, (top, bot), ty in zip(PANEL_TITLES, PANELS, [22.5, 333, 644]):
    text_at(661, ty, title, size=32.5)
    text_at(22, (top + bot) / 2, Y_LABEL, angle=-90)
text_at(662, 968, X_LABEL)

# data-cursor boxes: (left, top, right, bottom) and first/second text line centres
TIP_LAYOUT = [
    (TIP_NORMAL, (243, 262, 394, 347), 257, 291, 321),
    (TIP_PARALLEL, (117, 590, 268, 676), 132, 619, 649),
    (TIP_VERTICAL, (284, 625, 424, 709), 298, 653, 684),
]
for (tx, ty), (x0, y0, x1, y1), tl, l1, l2 in TIP_LAYOUT:
    shapes.append(dict(
        type="rect", xref="paper", yref="paper", layer="above",
        x0=fx(x0), x1=fx(x1), y0=fy(y1), y1=fy(y0),
        fillcolor="#FFFFEB", line=dict(color="#CFCFCF", width=1.5),
    ))
    text_at(tl, l1, f"X: {tx:g}", size=26.5, xanchor="left")
    text_at(tl, l2, f"Y: {ty:g}", size=26.5, xanchor="left")

fig.update_layout(annotations=annotations, shapes=shapes)
fig.write_html(
    "out.html",
    config={"displayModeBar": False},
    post_script="document.body.style.margin='0';document.body.style.overflow='hidden';",
)
